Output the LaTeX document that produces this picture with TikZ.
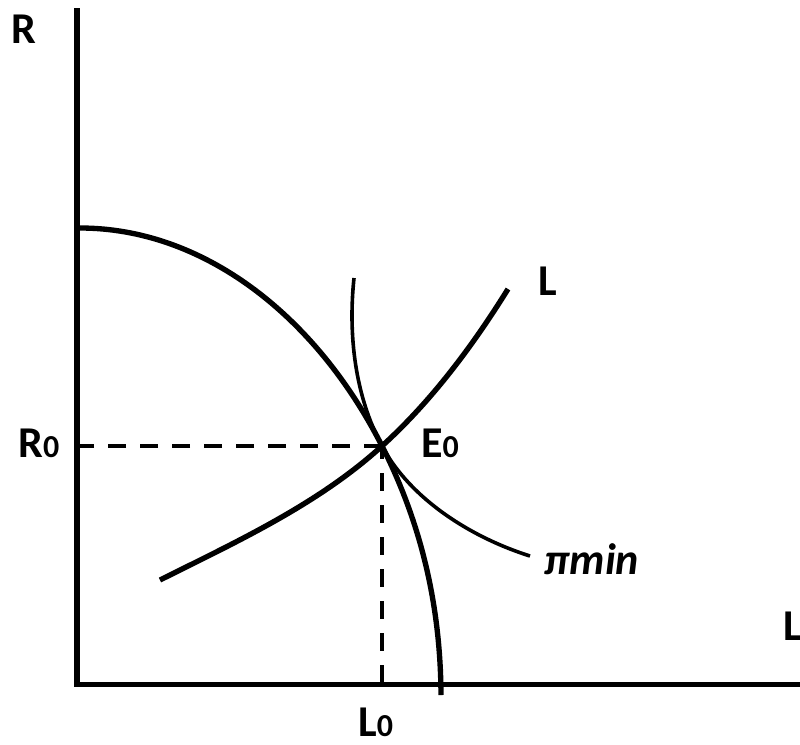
\documentclass[tikz,border=0pt]{standalone}
\usepackage{fontspec}
\setmainfont{Carlito}
\usetikzlibrary{calc}
\newcommand{\subdig}[1]{{\fontsize{24}{24}\selectfont #1}}

\begin{document}
\begin{tikzpicture}[
    x=0.75pt, y=-0.75pt,
    lbl/.style={font=\fontsize{33}{36}\selectfont\bfseries, inner sep=0pt, anchor=base west},
    axis/.style={line width=4pt},
    curve/.style={line width=4pt},
    thincurve/.style={line width=2.7pt},
    guide/.style={line width=3.7pt, dash pattern=on 13.5pt off 10.5pt}
  ]
    \useasboundingbox (0,0) rectangle (800,744);

    \coordinate (O) at (77,684.5);
    \coordinate (Ytop) at (77,8);
    \coordinate (Xend) at (800,684.5);
    \coordinate (E0) at (382,446);

    % axes
    \draw[axis] (Ytop) -- (77,687);
    \draw[axis] (74,684.5) -- (Xend);

    % guide lines to the axes
    \draw[guide] (E0) -- (E0 -| O);
    \draw[guide, dash phase=3.75pt] (E0) -- (E0 |- O);

    % frontier
    \draw[curve] (80,228) .. controls (202,228) and (315,314) .. (E0)
      .. controls (420.5,522) and (440.5,604) .. (441,695);

    % rising L curve
    \draw[curve] (160,580) .. controls (237,541.5) and (318.4,504) .. (E0)
      .. controls (431.5,401) and (472.6,346) .. (508,289);

    % iso-profit curve
    \draw[thincurve] (354,278) .. controls (348,335) and (355,396) .. (E0)
      .. controls (410.7,499.7) and (472,537.7) .. (530,556);

    % labels
    \node[lbl] (lR) at (11,43) {R};
    \node[lbl] (lR0) at (18,457) {R\subdig{0}};
    \node[lbl] (lE0) at (421,457) {E\subdig{0}};
    \node[lbl] (lL) at (538,295) {L};
    \node[lbl] (lLx) at (783,640) {L};
    \node[lbl] (lL0) at (358,736) {L\subdig{0}};
    \node[lbl, font=\fontsize{33}{36}\selectfont\bfseries\itshape] (lpi) at (544,574) {πmin};

\end{tikzpicture}
\end{document}
